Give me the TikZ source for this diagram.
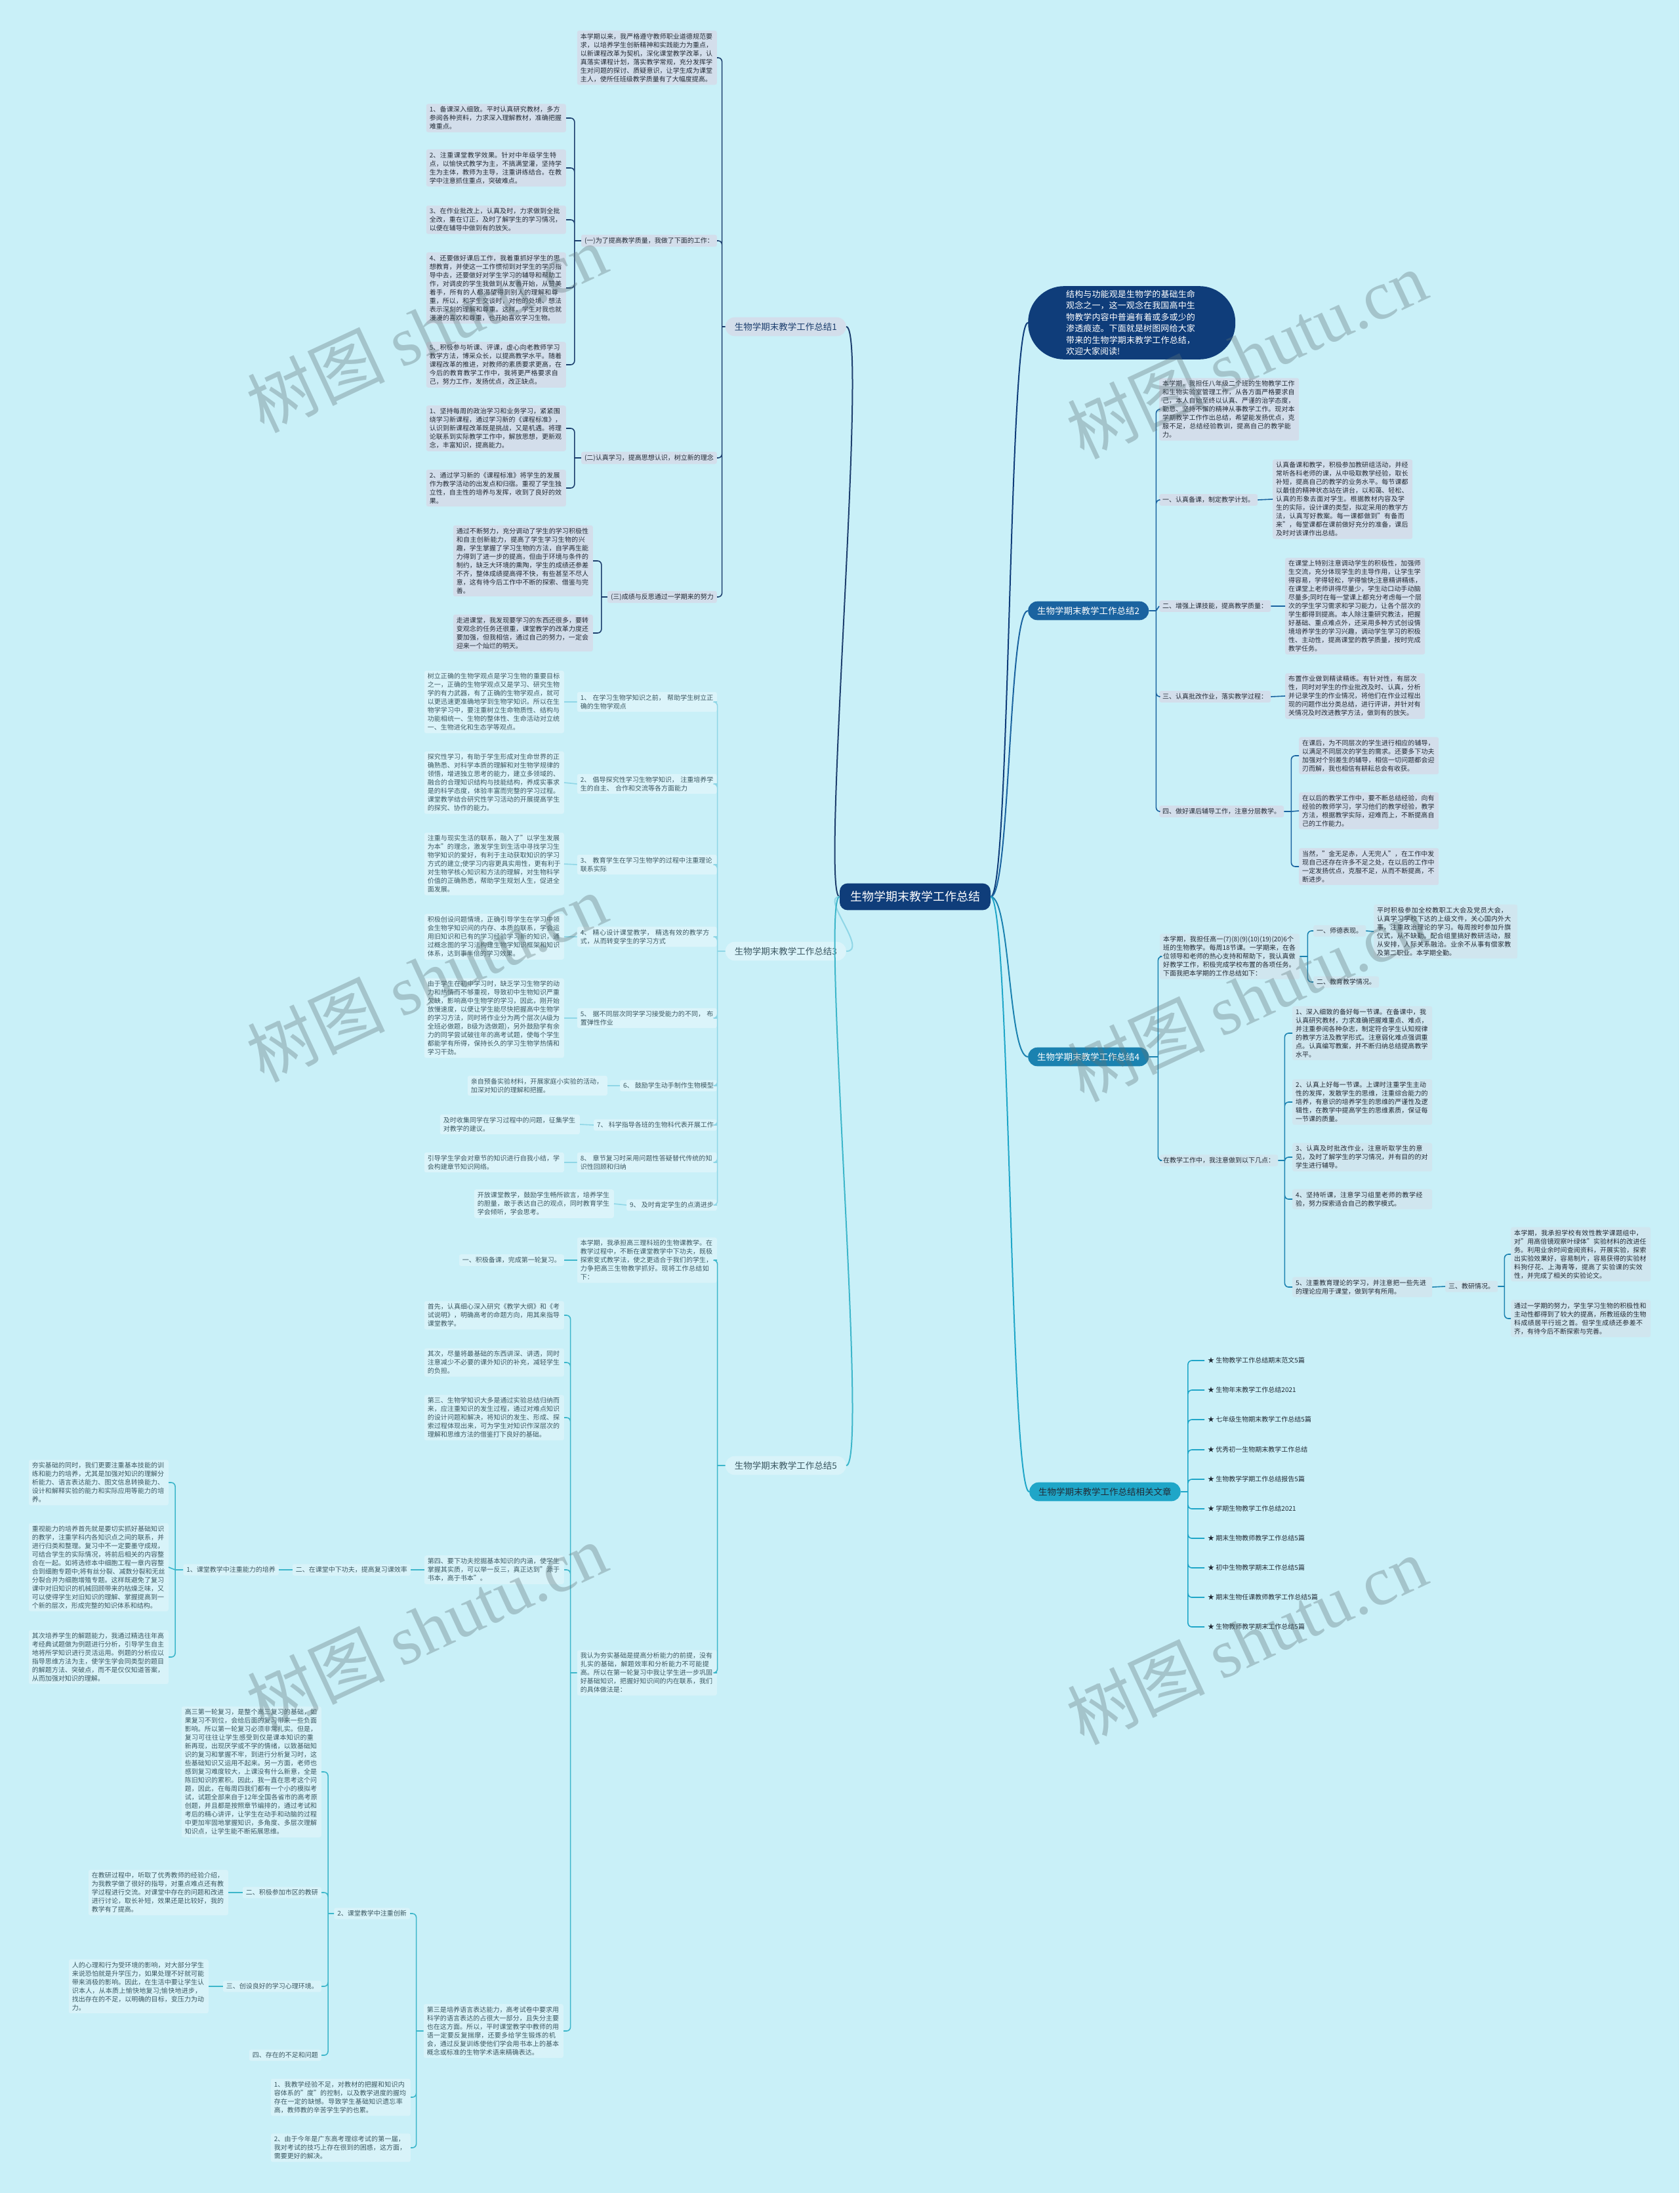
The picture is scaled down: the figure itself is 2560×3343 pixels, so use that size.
\documentclass[tikz,border=0pt]{standalone}
\usepackage{fontspec}
\setmainfont{Noto Sans CJK SC}
\newfontfamily\wmserif{Liberation Serif}
\XeTeXlinebreaklocale "zh"
\XeTeXlinebreakskip=0pt plus 1pt
\usetikzlibrary{positioning}

\definecolor{bg}{HTML}{C9F0F8}
\definecolor{navy}{HTML}{0F3D7A}
\definecolor{c1}{HTML}{1D3F6E}
\definecolor{f1}{HTML}{D3DEEB}
\definecolor{c2}{HTML}{1A63A0}
\definecolor{c3}{HTML}{8FD6E6}
\definecolor{f3}{HTML}{DBF4FA}
\definecolor{c4}{HTML}{1B82B0}
\definecolor{f4}{HTML}{D0E6EF}
\definecolor{c5}{HTML}{3DB6CA}
\definecolor{f5}{HTML}{D8F3F9}
\definecolor{c6}{HTML}{1FA6C8}
\definecolor{ink}{HTML}{222B36}
\definecolor{ink3}{HTML}{3B5862}
\definecolor{wm}{HTML}{5F7479}

\begin{document}
\begin{tikzpicture}[x=1pt, y=-1pt,
    leaf/.style={rounded corners=3pt, inner xsep=5pt, inner ysep=4pt, text width=203pt, align=left, font=\fontsize{10}{13}\selectfont},
    tag/.style={rounded corners=3pt, inner xsep=5pt, inner ysep=4pt, font=\fontsize{10}{13}\selectfont},
    topic/.style={rounded corners=14pt, inner xsep=14pt, inner ysep=8pt, font=\fontsize{13.5}{16}\selectfont},
    wire/.style={line width=1.6pt, rounded corners=6pt},
    trunk/.style={line width=2pt},
    wmark/.style={rotate=25, text=wm, opacity=0.35, font=\fontsize{105}{110}\selectfont}]

\fill[bg] (0,0) rectangle (2560,3343);
\useasboundingbox (0,0) rectangle (2560,3343);

% centre and main topics
\node[fill=navy, text=white, rounded corners=12pt, inner xsep=16pt, inner ysep=12pt, font=\fontsize{18}{22}\selectfont] (root) at (1395,1367) {生物学期末教学工作总结};
\node[topic, fill=f1, text=c1, anchor=east] (s1) at (1290,498) {生物学期末教学工作总结1};
\node[topic, fill=f3, text=ink3, anchor=east] (s3) at (1290,1450) {生物学期末教学工作总结3};
\node[topic, fill=f5, text=ink3, anchor=east] (s5) at (1290,2234) {生物学期末教学工作总结5};
\node[fill=navy, text=white, rounded corners=55pt, inner xsep=58pt, inner ysep=6pt, text width=200pt, align=left, font=\fontsize{13}{17.5}\selectfont, anchor=west] (intro) at (1567,492) {结构与功能观是生物学的基础生命观念之一，这一观念在我国高中生物教学内容中普遍有着或多或少的渗透痕迹。下面就是树图网给大家带来的生物学期末教学工作总结，欢迎大家阅读!};
\node[topic, fill=c2, text=white, anchor=west] (s2) at (1567,931) {生物学期末教学工作总结2};
\node[topic, fill=c4, text=white, anchor=west] (s4) at (1567,1611) {生物学期末教学工作总结4};
\node[topic, fill=c6, text=ink, anchor=west] (s6) at (1569,2274) {生物学期末教学工作总结相关文章};

\draw[trunk, c1] (root.west) .. controls +(-30,0) and +(35,0) .. (s1.east);
\draw[trunk, c3] (root.west) .. controls +(-30,0) and +(35,0) .. (s3.east);
\draw[trunk, c5] (root.west) .. controls +(-30,0) and +(35,0) .. (s5.east);
\draw[trunk, navy] (root.east) .. controls +(30,0) and +(-30,0) .. (intro.west);
\draw[trunk, c2] (root.east) .. controls +(30,0) and +(-30,0) .. (s2.west);
\draw[trunk, c4] (root.east) .. controls +(30,0) and +(-30,0) .. (s4.west);
\draw[trunk, c6] (root.east) .. controls +(30,0) and +(-30,0) .. (s6.west);

% summary 1
\begin{scope}[every node/.append style={fill=f1, text=ink, anchor=east}]
\node[leaf] (p0) at (1093,88) {本学期以来，我严格遵守教师职业道德规范要求，以培养学生创新精神和实践能力为重点，以新课程改革为契机，深化课堂教学改革，认真落实课程计划，落实教学常规，充分发挥学生对问题的探讨、质疑意识，让学生成为课堂主人，使所任班级教学质量有了大幅度提高。};
\node[tag] (h1) at (1093,367) {(一)为了提高教学质量，我做了下面的工作：};
\node[leaf] (p1) at (863,180) {1、备课深入细致。平时认真研究教材，多方参阅各种资料，力求深入理解教材，准确把握难重点。};
\node[leaf] (p2) at (863,256) {2、注重课堂教学效果。针对中年级学生特点，以愉快式教学为主，不搞满堂灌，坚持学生为主体，教师为主导，注重讲练结合。在教学中注意抓住重点，突破难点。};
\node[leaf] (p3) at (863,335) {3、在作业批改上，认真及时，力求做到全批全改，重在订正，及时了解学生的学习情况，以便在辅导中做到有的放矢。};
\node[leaf] (p4) at (863,439) {4、还要做好课后工作，我着重抓好学生的思想教育，并使这一工作惯彻到对学生的学习指导中去，还要做好对学生学习的辅导和帮助工作，对调皮的学生我做到从友善开始，从赞美着手，所有的人都渴望得到别人的理解和尊重，所以，和学生交谈时，对他的处境、想法表示深刻的理解和尊重。这样，学生对我也就漫漫的喜欢和尊重，也开始喜欢学习生物。};
\node[leaf] (p5) at (863,556) {5、积极参与听课、评课，虚心向老教师学习教学方法，博采众长，以提高教学水平。随着课程改革的推进，对教师的素质要求更高，在今后的教育教学工作中，我将更严格要求自己，努力工作，发扬优点，改正缺点。};
\node[tag] (h2) at (1093,698) {(二)认真学习，提高思想认识，树立新的理念};
\node[leaf] (q1) at (863,653) {1、坚持每周的政治学习和业务学习，紧紧围绕学习新课程，通过学习新的《课程标准》，认识到新课程改革既是挑战，又是机遇。将理论联系到实际教学工作中，解放思想，更新观念，丰富知识，提高能力。};
\node[leaf] (q2) at (863,744) {2、通过学习新的《课程标准》将学生的发展作为教学活动的出发点和归宿。重视了学生独立性，自主性的培养与发挥，收到了良好的效果。};
\node[tag] (h3) at (1093,910) {(三)成绩与反思通过一学期来的努力};
\node[leaf] (q3) at (904,855) {通过不断努力，充分调动了学生的学习积极性和自主创新能力，提高了学生学习生物的兴趣，学生掌握了学习生物的方法，自学再生能力得到了进一步的提高，但由于环境与条件的制约，缺乏大环境的熏陶，学生的成绩还参差不齐，整体成绩提高得不快，有些甚至不尽人意，这有待今后工作中不断的探索、借鉴与完善。};
\node[leaf] (q4) at (904,965) {走进课堂，我发现要学习的东西还很多，要转变观念的任务还很重，课堂教学的改革力度还要加强，但我相信，通过自己的努力，一定会迎来一个灿烂的明天。};
\end{scope}

\draw[wire, c1] (s1.west) -- ++(-5,0)
  ([xshift=-5pt]s1.west) |- (p0.east) ([xshift=-5pt]s1.west) |- (h1.east)
  ([xshift=-5pt]s1.west) |- (h2.east) ([xshift=-5pt]s1.west) |- (h3.east);
\draw[wire, c1] (h1.west) -- ++(-10,0)
  ([xshift=-10pt]h1.west) |- (p1.east) ([xshift=-10pt]h1.west) |- (p2.east)
  ([xshift=-10pt]h1.west) |- (p3.east) ([xshift=-10pt]h1.west) |- (p4.east)
  ([xshift=-10pt]h1.west) |- (p5.east);
\draw[wire, c1] (h2.west) -- ++(-10,0)
  ([xshift=-10pt]h2.west) |- (q1.east) ([xshift=-10pt]h2.west) |- (q2.east);
\draw[wire, c1] (h3.west) -- ++(-9,0)
  ([xshift=-9pt]h3.west) |- (q3.east) ([xshift=-9pt]h3.west) |- (q4.east);

% summary 3
\begin{scope}[every node/.append style={fill=f3, text=ink3, anchor=east}]
\node[leaf] (m1) at (1093,1070) {1、 在学习生物学知识之前， 帮助学生树立正确的生物学观点};
\node[leaf] (n1) at (860,1070) {树立正确的生物学观点是学习生物的重要目标之一，正确的生物学观点又是学习、研究生物学的有力武器，有了正确的生物学观点，就可以更迅速更准确地学到生物学知识。所以在生物学学习中，要注重树立生命物质性、结构与功能相统一、生物的整体性、生命活动对立统一、生物进化和生态学等观点。};
\node[leaf] (m2) at (1093,1195) {2、 倡导探究性学习生物学知识， 注重培养学生的自主、 合作和交流等各方面能力};
\node[leaf] (n2) at (860,1193) {探究性学习，有助于学生形成对生命世界的正确熟悉、对科学本质的理解和对生物学规律的领悟，增进独立思考的能力，建立多领域的、融合的合理知识结构与技能结构，养成实事求是的科学态度，体验丰富而完整的学习过程。课堂教学结合研究性学习活动的开展提高学生的探究、协作的能力。};
\node[leaf] (m3) at (1093,1318) {3、 教育学生在学习生物学的过程中注重理论联系实际};
\node[leaf] (n3) at (860,1317) {注重与现实生活的联系，融入了"以学生发展为本"的理念，激发学生到生活中寻找学习生物学知识的爱好，有利于主动获取知识的学习方式的建立;使学习内容更具实用性，更有利于对生物学核心知识和方法的理解，对生物科学价值的正确熟悉，帮助学生规划人生，促进全面发展。};
\node[leaf] (m4) at (1093,1428) {4、 精心设计课堂教学， 精选有效的教学方式，从而转变学生的学习方式};
\node[leaf] (n4) at (860,1428) {积极创设问题情境，正确引导学生在学习中领会生物学知识间的内存、本质的联系，学会运用旧知识和已有的学习经验学习新的知识，通过概念图的学习法构建生物学知识框架和知识体系，达到事半倍的学习效果。};
\node[leaf] (m5) at (1093,1552) {5、 据不同层次同学学习接受能力的不同， 布置弹性作业};
\node[leaf] (n5) at (860,1552) {由于学生在初中学习时，缺乏学习生物学的动力和热情而不够重视，导致初中生物知识严重欠缺，影响高中生物学的学习，因此，刚开始放慢速度，以便让学生能尽快把握高中生物学的学习方法，同时将作业分为两个层次(A级为全班必做题，B级为选做题)，另外鼓励学有余力的同学尝试破往年的高考试题，使每个学生都能学有所得，保持长久的学习生物学热情和学习干劲。};
\node[tag] (m6) at (1093,1655) {6、 鼓励学生动手制作生物模型};
\node[leaf] (n6) at (926,1655) {亲自预备实验材料，开展家庭小实验的活动，加深对知识的理解和把握。};
\node[tag] (m7) at (1093,1715) {7、 科学指导各班的生物科代表开展工作};
\node[leaf] (n7) at (884,1714) {及时收集同学在学习过程中的问题，征集学生对教学的建议。};
\node[leaf] (m8) at (1093,1772) {8、 章节复习时采用问题性答疑替代传统的知识性回顾和归纳};
\node[leaf] (n8) at (860,1772) {引导学生学会对章节的知识进行自我小结，学会构建章节知识网络。};
\node[tag] (m9) at (1093,1837) {9、 及时肯定学生的点滴进步};
\node[leaf] (n9) at (936,1835) {开放课堂教学，鼓励学生畅所欲言，培养学生的胆量，敢于表达自己的观点，同时教育学生学会倾听，学会思考。};
\end{scope}

\draw[wire, c3] (s3.west) -- ++(-12,0)
  ([xshift=-12pt]s3.west) |- (m1.east) ([xshift=-12pt]s3.west) |- (m2.east)
  ([xshift=-12pt]s3.west) |- (m3.east) ([xshift=-12pt]s3.west) |- (m4.east)
  ([xshift=-12pt]s3.west) |- (m5.east) ([xshift=-12pt]s3.west) |- (m6.east)
  ([xshift=-12pt]s3.west) |- (m7.east) ([xshift=-12pt]s3.west) |- (m8.east)
  ([xshift=-12pt]s3.west) |- (m9.east);
\draw[wire, c3] (m1.west) -- (n1.east) (m2.west) -- (n2.east) (m3.west) -- (n3.east)
  (m4.west) -- (n4.east) (m5.west) -- (n5.east) (m6.west) -- (n6.east)
  (m7.west) -- (n7.east) (m8.west) -- (n8.east) (m9.west) -- (n9.east);

% summary 5
\begin{scope}[every node/.append style={fill=f5, text=ink3, anchor=east}]
\node[leaf] (r0) at (1093,1921) {本学期，我承担高三理科班的生物课教学。在教学过程中，不断在课堂教学中下功夫，既极探索变式教学法，使之更适合于我们的学生，力争把高三生物教学抓好。现将工作总结如下：};
\node[tag] (r0a) at (860,1921) {一、积极备课，完成第一轮复习。};
\node[leaf] (rq) at (1093,2550) {我认为夯实基础是提高分析能力的前提，没有扎实的基础，解题效率和分析能力不可能提高。所以在第一轮复习中我让学生进一步巩固好基础知识，把握好知识间的内在联系，我们的具体做法是：};
\node[leaf] (r1) at (860,2005) {首先，认真细心深入研究《教学大纲》和《考试说明》，明确高考的命题方向，用其来指导课堂教学。};
\node[leaf] (r2) at (860,2077) {其次，尽量将最基础的东西讲深、讲透，同时注意减少不必要的课外知识的补充，减轻学生的负担。};
\node[leaf] (r3) at (860,2161) {第三、生物学知识大多是通过实验总结归纳而来，应注重知识的发生过程，通过对难点知识的设计问题和解决，将知识的发生、形成、探索过程体现出来，可为学生对知识作深层次的理解和思维方法的借鉴打下良好的基础。};
\node[leaf] (r4) at (860,2393) {第四、要下功夫挖掘基本知识的内涵，使学生掌握其实质，可以举一反三，真正达到"源于书本，高于书本"。};
\node[leaf] (r5) at (859,3096) {第三是培养语言表达能力，高考试卷中要求用科学的语言表达的占很大一部分，且失分主要也在这方面。所以，平时课堂教学中教师的用语一定要反复揣摩，还要多给学生锻炼的机会，通过反复训练使他们学会用书本上的基本概念或标准的生物学术语来精确表达。};
\node[tag] (t1) at (626,2393) {二、在课堂中下功夫，提高复习课效率};
\node[tag] (t2) at (425,2393) {1、课堂教学中注重能力的培养};
\node[leaf] (u1) at (257,2260) {夯实基础的同时，我们更要注重基本技能的训练和能力的培养，尤其是加强对知识的理解分析能力、语言表达能力、图文信息转换能力、设计和解释实验的能力和实际应用等能力的培养。};
\node[leaf] (u2) at (257,2389) {重视能力的培养首先就是要切实抓好基础知识的教学，注重学科内各知识点之间的联系，并进行归类和整理。复习中不一定要墨守成规，可结合学生的实际情况，将前后相关的内容整合在一起。如将选修本中细胞工程一章内容整合到细胞专题中;将有丝分裂、减数分裂和无丝分裂合并为细胞增殖专题。这样既避免了复习课中对旧知识的机械回顾带来的枯燥乏味，又可以使得学生对旧知识的理解、掌握提高到一个新的层次，形成完整的知识体系和结构。};
\node[leaf] (u3) at (257,2526) {其次培养学生的解题能力，我通过精选往年高考经典试题做为例题进行分析，引导学生自主地将所学知识进行灵活运用。例题的分析应以指导思维方法为主，使学生学会同类型的题目的解题方法、突破点，而不是仅仅知道答案，从而加强对知识的理解。};
\node[tag] (v1) at (625,2917) {2、课堂教学中注重创新};
\node[leaf] (v2) at (626,3197) {1、我教学经验不足，对教材的把握和知识内容体系的"度"的控制，以及教学进度的握均存在一定的缺憾。导致学生基础知识遗忘率高，教师教的辛苦学生学的也累。};
\node[leaf] (v3) at (626,3274) {2、由于今年是广东高考理综考试的第一届，我对考试的技巧上存在很到的困惑，这方面，需要更好的解决。};
\node[leaf] (w1) at (490,2701) {高三第一轮复习，是整个高三复习的基础，如果复习不到位，会给后面的复习带来一些负面影响。所以第一轮复习必须非常扎实。但是，复习可往往让学生感受到仅是课本知识的重新再现，出现厌学或不学的情绪，以致基础知识的复习和掌握不牢，到进行分析复习时，这些基础知识又运用不起来。另一方面，老师也感到复习难度较大，上课没有什么新意，全是陈旧知识的累积。因此，我一直在思考这个问题，因此，在每周四我们都有一个小的模拟考试，试题全部来自于12年全国各省市的高考原创题，并且都是按照章节编排的，通过考试和考后的精心讲评，让学生在动手和动脑的过程中更加牢固地掌握知识，多角度、多层次理解知识点，让学生能不断拓展思维。};
\node[tag] (w2) at (490,2885) {二、积极参加市区的教研};
\node[tag] (w3) at (490,3028) {三、创设良好的学习心理环境。};
\node[tag] (w4) at (490,3133) {四、存在的不足和问题};
\node[leaf] (x2) at (348,2885) {在教研过程中，听取了优秀教师的经验介绍，为我教学做了很好的指导，对重点难点还有教学过程进行交流。对课堂中存在的问题和改进进行讨论，取长补短，效果还是比较好，我的教学有了提高。};
\node[leaf] (x3) at (318,3028) {人的心理和行为受环境的影响，对大部分学生来说恐怕就是升学压力，如果处理不好就可能带来消极的影响。因此，在生活中要让学生认识本人，从本质上愉快地复习;愉快地进步，找出存在的不足，以明确的目标，变压力为动力。};
\end{scope}

\draw[wire, c5] (s5.west) -- ++(-12,0)
  ([xshift=-12pt]s5.west) |- (r0.east) ([xshift=-12pt]s5.west) |- (rq.east);
\draw[wire, c5] (r0.west) -- (r0a.east);
\draw[wire, c5] (rq.west) -- ++(-10,0)
  ([xshift=-10pt]rq.west) |- (r1.east) ([xshift=-10pt]rq.west) |- (r2.east)
  ([xshift=-10pt]rq.west) |- (r3.east) ([xshift=-10pt]rq.west) |- (r4.east)
  ([xshift=-10pt]rq.west) |- (r5.east);
\draw[wire, c5] (r4.west) -- (t1.east) (t1.west) -- (t2.east);
\draw[wire, c5] (t2.west) -- ++(-12,0)
  ([xshift=-12pt]t2.west) |- (u1.east) ([xshift=-12pt]t2.west) -- (u2.east)
  ([xshift=-12pt]t2.west) |- (u3.east);
\draw[wire, c5] (r5.west) -- ++(-11,0)
  ([xshift=-11pt]r5.west) |- (v1.east) ([xshift=-11pt]r5.west) |- (v2.east)
  ([xshift=-11pt]r5.west) |- (v3.east);
\draw[wire, c5] (v1.west) -- ++(-9,0)
  ([xshift=-9pt]v1.west) |- (w1.east) ([xshift=-9pt]v1.west) |- (w2.east)
  ([xshift=-9pt]v1.west) |- (w3.east) ([xshift=-9pt]v1.west) |- (w4.east);
\draw[wire, c5] (w2.west) -- (x2.east) (w3.west) -- (x3.east);

% summary 2
\begin{scope}[every node/.append style={fill=f1, text=ink, anchor=west}]
\node[leaf] (a0) at (1767,624) {本学期，我担任八年级二个班的生物教学工作和生物实验室管理工作，从各方面严格要求自己，本人自始至终以认真、严谨的治学态度，勤恳、坚持不懈的精神从事教学工作。现对本学期教学工作作出总结，希望能发扬优点，克服不足，总结经验教训，提高自己的教学能力。};
\node[tag] (a1) at (1767,762) {一、认真备课，制定教学计划。};
\node[leaf] (a1c) at (1940,761) {认真备课和教学，积极参加教研组活动，并经常听各科老师的课，从中吸取教学经验，取长补短，提高自己的教学的业务水平。每节课都以最佳的精神状态站在讲台，以和蔼、轻松、认真的形象去面对学生。根据教材内容及学生的实际，设计课的类型，拟定采用的教学方法，认真写好教案。每一课都做到"有备而来"，每堂课都在课前做好充分的准备，课后及时对该课作出总结。};
\node[tag] (a2) at (1767,924) {二、增强上课技能，提高教学质量：};
\node[leaf] (a2c) at (1959,924) {在课堂上特别注意调动学生的积极性，加强师生交流，充分体现学生的主导作用，让学生学得容易，学得轻松，学得愉快;注意精讲精练，在课堂上老师讲得尽量少，学生动口动手动脑尽量多;同时在每一堂课上都充分考虑每一个层次的学生学习需求和学习能力，让各个层次的学生都得到提高。本人除注重研究教法，把握好基础、重点难点外，还采用多种方式创设情境培养学生的学习兴趣，调动学生学习的积极性、主动性，提高课堂的教学质量，按时完成教学任务。};
\node[tag] (a3) at (1767,1062) {三、认真批改作业，落实教学过程：};
\node[leaf] (a3c) at (1959,1061) {布置作业做到精读精练。有针对性，有层次性，同时对学生的作业批改及时、认真，分析并记录学生的作业情况，将他们在作业过程出现的问题作出分类总结，进行评讲，并针对有关情况及时改进教学方法，做到有的放矢。};
\node[tag] (a4) at (1767,1237) {四、做好课后辅导工作，注意分层教学。};
\node[leaf] (a4a) at (1980,1152) {在课后，为不同层次的学生进行相应的辅导，以满足不同层次的学生的需求。还要多下功夫加强对个别差生的辅导，相信一切问题都会迎刃而解，我也相信有耕耘总会有收获。};
\node[leaf] (a4b) at (1980,1236) {在以后的教学工作中，要不断总结经验，向有经验的教师学习，学习他们的教学经验，教学方法，根据教学实际，迎难而上，不断提高自己的工作能力。};
\node[leaf] (a4c) at (1980,1321) {当然，"金无足赤，人无完人"，在工作中发现自己还存在许多不足之处，在以后的工作中一定发扬优点，克服不足，从而不断提高，不断进步。};
\end{scope}

\draw[wire, c2] (s2.east) -- ++(11,0)
  ([xshift=11pt]s2.east) |- (a0.west) ([xshift=11pt]s2.east) |- (a1.west)
  ([xshift=11pt]s2.east) -- (a2.west) ([xshift=11pt]s2.east) |- (a3.west)
  ([xshift=11pt]s2.east) |- (a4.west);
\draw[wire, c2] (a1.east) -- (a1c.west) (a2.east) -- (a2c.west) (a3.east) -- (a3c.west);
\draw[wire, c2] (a4.east) -- ++(11,0)
  ([xshift=11pt]a4.east) |- (a4a.west) ([xshift=11pt]a4.east) -- (a4b.west)
  ([xshift=11pt]a4.east) |- (a4c.west);

% summary 4
\begin{scope}[every node/.append style={fill=f4, text=ink, anchor=west}]
\node[leaf] (b0) at (1768,1458) {本学期，我担任高一(7)(8)(9)(10)(19)(20)6个班的生物教学。每周18节课。一学期来，在各位领导和老师的热心支持和帮助下，我认真做好教学工作，积极完成学校布置的各项任务。下面我把本学期的工作总结如下：};
\node[tag] (b1) at (2002,1419) {一、师德表现。};
\node[leaf, text width=209pt] (b1c) at (2094,1420) {平时积极参加全校教职工大会及党员大会，认真学习学校下达的上级文件，关心国内外大事，注重政治理论的学习。每周按时参加升旗仪式，从不缺勤。配合组里搞好教研活动，服从安排，人际关系融洽。业余不从事有偿家教及第二职业。本学期全勤。};
\node[tag] (b2) at (2002,1497) {二、教育教学情况。};
\node[tag] (b3) at (1768,1769) {在教学工作中，我注意做到以下几点：};
\node[leaf] (c1) at (1970,1575) {1、深入细致的备好每一节课。在备课中，我认真研究教材，力求准确把握难重点、难点，并注重参阅各种杂志，制定符合学生认知规律的教学方法及教学形式。注意弱化难点强调重点。认真编写教案，并不断归纳总结提高教学水平。};
\node[leaf] (c2) at (1970,1680) {2、认真上好每一节课。上课时注重学生主动性的发挥，发散学生的思维，注重综合能力的培养，有意识的培养学生的思维的严谨性及逻辑性，在教学中提高学生的思维素质，保证每一节课的质量。};
\node[leaf] (c3) at (1970,1764) {3、认真及时批改作业，注意听取学生的意见，及时了解学生的学习情况，并有目的的对学生进行辅导。};
\node[leaf] (c4) at (1970,1828) {4、坚持听课，注意学习组里老师的教学经验，努力探索适合自己的教学模式。};
\node[leaf] (c5) at (1970,1962) {5、注重教育理论的学习，并注意把一些先进的理论应用于课堂，做到学有所用。};
\node[tag] (c5c) at (2203,1961) {三、教研情况。};
\node[leaf] (d1) at (2303,1912) {本学期，我承担学校有效性教学课题组中，对"用高倍镜观察叶绿体"实验材料的改进任务。利用业余时间查阅资料，开展实验，探索出实验效果好，容易制片，容易获得的实验材料狗仔花、上海青等，提高了实验课的实效性，并完成了相关的实验论文。};
\node[leaf] (d2) at (2303,2010) {通过一学期的努力，学生学习生物的积极性和主动性都得到了较大的提高，所教班级的生物科成绩居平行班之首。但学生成绩还参差不齐，有待今后不断探索与完善。};
\end{scope}

\draw[wire, c4] (s4.east) -- ++(14,0)
  ([xshift=14pt]s4.east) |- (b0.west) ([xshift=14pt]s4.east) |- (b3.west);
\draw[wire, c4] (b0.east) -- ++(12,0)
  ([xshift=12pt]b0.east) |- (b1.west) ([xshift=12pt]b0.east) |- (b2.west);
\draw[wire, c4] (b1.east) -- (b1c.west);
\draw[wire, c4] (b3.east) -- ++(10,0)
  ([xshift=10pt]b3.east) |- (c1.west) ([xshift=10pt]b3.east) |- (c2.west)
  ([xshift=10pt]b3.east) |- (c3.west) ([xshift=10pt]b3.east) |- (c4.west)
  ([xshift=10pt]b3.east) |- (c5.west);
\draw[wire, c4] (c5.east) -- (c5c.west);
\draw[wire, c4] (c5c.east) -- ++(10,0)
  ([xshift=10pt]c5c.east) |- (d1.west) ([xshift=10pt]c5c.east) |- (d2.west);

% related articles
\begin{scope}[every node/.append style={tag, text=ink, anchor=west}]
\node (e1) at (1836,2074) {★ 生物教学工作总结期末范文5篇};
\node (e2) at (1836,2119) {★ 生物年末教学工作总结2021};
\node (e3) at (1836,2164) {★ 七年级生物期末教学工作总结5篇};
\node (e4) at (1836,2210) {★ 优秀初一生物期末教学工作总结};
\node (e5) at (1836,2255) {★ 生物教学学期工作总结报告5篇};
\node (e6) at (1836,2300) {★ 学期生物教学工作总结2021};
\node (e7) at (1836,2345) {★ 期末生物教师教学工作总结5篇};
\node (e8) at (1836,2390) {★ 初中生物教学期末工作总结5篇};
\node (e9) at (1836,2435) {★ 期末生物任课教师教学工作总结5篇};
\node (e10) at (1836,2480) {★ 生物教师教学期末工作总结5篇};
\end{scope}
\draw[wire, c6] (s6.east) -- ++(11,0)
  ([xshift=11pt]s6.east) |- (e1.west) ([xshift=11pt]s6.east) |- (e2.west)
  ([xshift=11pt]s6.east) |- (e3.west) ([xshift=11pt]s6.east) |- (e4.west)
  ([xshift=11pt]s6.east) |- (e5.west) ([xshift=11pt]s6.east) |- (e6.west)
  ([xshift=11pt]s6.east) |- (e7.west) ([xshift=11pt]s6.east) |- (e8.west)
  ([xshift=11pt]s6.east) |- (e9.west) ([xshift=11pt]s6.east) |- (e10.west);

% watermarks
\node[wmark] (wm1) at (650,500) {树图 {\wmserif shutu.cn}};
\node[wmark] (wm2) at (1900,540) {树图 {\wmserif shutu.cn}};
\node[wmark] (wm3) at (650,1490) {树图 {\wmserif shutu.cn}};
\node[wmark] (wm4) at (1900,1520) {树图 {\wmserif shutu.cn}};
\node[wmark] (wm5) at (650,2480) {树图 {\wmserif shutu.cn}};
\node[wmark] (wm6) at (1900,2500) {树图 {\wmserif shutu.cn}};
\end{tikzpicture}
\end{document}
